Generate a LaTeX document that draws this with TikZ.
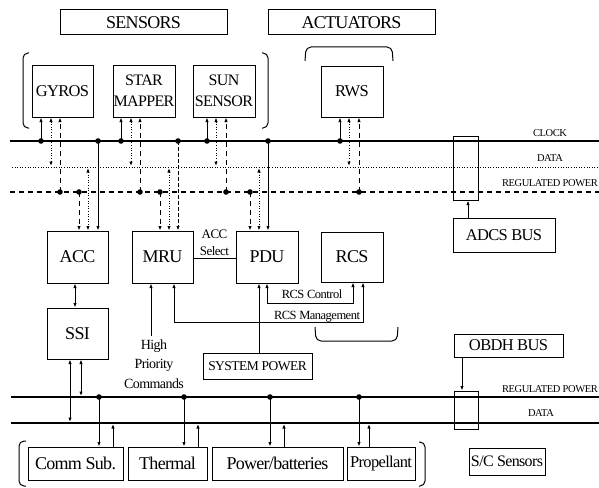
\documentclass[tikz,border=0pt]{standalone}
\usepackage{fontspec}
\setmainfont{Liberation Serif}[LetterSpace=-4]
\usetikzlibrary{arrows.meta}
\begin{document}
\begin{tikzpicture}[x=1pt,y=-1pt,
  >={Latex[length=4.5pt,width=3.4pt]},
  box/.style={draw,line width=1pt,inner sep=0pt,align=center},
  bus/.style={line width=1.3pt},
  dotline/.style={line width=1pt,dash pattern=on 1pt off 1.6pt},
  dashline/.style={line width=1pt,dash pattern=on 5pt off 4pt},
  fdash/.style={line width=1pt,dash pattern=on 4pt off 2pt},
  wire/.style={line width=1pt},
  brk/.style={line width=1pt,rounded corners=5pt},
  f18/.style={font=\fontsize{18}{20}\selectfont},
  f16/.style={font=\fontsize{16.5}{18}\selectfont},
  f2l/.style={font=\fontsize{16}{21}\selectfont},
  f13/.style={font=\fontsize{13.5}{15}\selectfont},
  f12/.style={font=\fontsize{12.5}{14}\selectfont},
  lbl/.style={font=\fontsize{10.5}{11}\selectfont,inner sep=0pt},
]
\useasboundingbox (0,0) rectangle (599,487);

% title boxes
\node[box,f18,minimum width=167pt,minimum height=25pt] (sensors) at (143.5,22.5) {SENSORS};
\node[box,f18,minimum width=167pt,minimum height=25pt] (actuators) at (351.5,22.5) {ACTUATORS};

% brackets
\draw[brk] (29,53) -- (23,53) -- (23,128) -- (29,128);
\draw[brk] (262,53) -- (268,53) -- (268,128) -- (262,128);
\draw[brk] (305,61) -- (306,47) -- (392,47) -- (393,61);
\draw[brk] (315,327) -- (316,341) -- (397,341) -- (398,327);
\draw[brk] (26,441) -- (19,441) -- (19,486) -- (26,486);
\draw[brk] (419,442) -- (425,442) -- (425,486) -- (419,486);

% sensor / actuator boxes
\node[box,f16,minimum width=61pt,minimum height=52pt] (gyros) at (62.5,91) {GYROS};
\node[box,f2l,minimum width=62pt,minimum height=52pt] (star) at (144,91) {STAR\\MAPPER};
\node[box,f2l,minimum width=62pt,minimum height=52pt] (sun) at (224,91) {SUN\\SENSOR};
\node[box,f16,minimum width=62pt,minimum height=51pt] (rws) at (352,91.5) {RWS};

% upper bus
\coordinate (clkL) at (10,141); \coordinate (clkR) at (599,141);
\coordinate (datL) at (12,167); \coordinate (datR) at (599,167);
\coordinate (pwrL) at (10,192); \coordinate (pwrR) at (599,192);
\draw[bus] (clkL) -- (clkR);
\draw[line width=1pt,dash pattern=on 1pt off 1.6pt] (datL) -- (datR);
\draw[line width=1.2pt,dash pattern=on 5pt off 4pt] (pwrL) -- (pwrR);
\node[lbl,anchor=base] (lclk) at (550,136) {CLOCK};
\node[lbl,anchor=base] (ldat) at (550,161) {DATA};
\node[lbl,anchor=base east] (lpwr) at (598,186) {REGULATED POWER};

% connector box upper
\node[draw,line width=1pt,minimum width=25pt,minimum height=64pt,inner sep=0pt] (conn1) at (465.5,168) {};
\node[box,f16,minimum width=102pt,minimum height=34pt] (adcs) at (504,235) {ADCS BUS};
\draw[wire,->] (468,0 |- adcs.north) -- (468,0 |- conn1.south);

% processor boxes
\node[box,f18,minimum width=61pt,minimum height=52pt] (acc) at (77.5,257) {ACC};
\node[box,f18,minimum width=61pt,minimum height=52pt] (mru) at (162.5,257) {MRU};
\node[box,f18,minimum width=62pt,minimum height=52pt] (pdu) at (267,257) {PDU};
\node[box,f18,minimum width=62pt,minimum height=50pt] (rcs) at (352,257) {RCS};
\node[box,f18,minimum width=61pt,minimum height=51pt] (ssi) at (77.5,333.5) {SSI};
\node[box,f13,minimum width=109pt,minimum height=26pt] (syspow) at (257.5,366) {SYSTEM POWER};

% sensor taps
\foreach \s/\a/\b/\c in {gyros/41/51/60, star/121/131/140, sun/207/216/226, rws/340/349/359}{
  \draw[wire,->] (\a,141) -- (\a,0 |- \s.south);
  \draw[dotline,<->] (\b,0 |- \s.south) -- (\b,166);
  \draw[dashline,->] (\c,192) -- (\c,0 |- \s.south);
  \fill (\a,141) circle (2.8pt) (\c,192) circle (2.8pt);
}
% processor taps
\foreach \p/\d/\e/\f in {acc/79/88/98, mru/160/169/178, pdu/250/259/268}{
  \draw[dashline,->] (\d,192) -- (\d,0 |- \p.north);
  \draw[dotline,<->] (\e,168) -- (\e,0 |- \p.north);
  \fill (\d,192) circle (2.8pt) (\f,141) circle (2.8pt);
}
\draw[wire,->] (98,141) -- (98,0 |- acc.north);
\draw[fdash,->] (178,141) -- (178,0 |- mru.north);
\draw[wire,->] (268,141) -- (268,0 |- pdu.north);

% ACC select
\draw[wire] (mru.east |- 0,258) -- (pdu.west |- 0,258);
\node[font=\fontsize{13}{17}\selectfont,align=center,anchor=south,inner sep=1pt] (accsel) at (214.5,257) {ACC\\Select};

% ACC - SSI
\draw[wire,<->] (75,0 |- acc.south) -- (75,0 |- ssi.north);

% high priority commands
\node[align=center,font=\fontsize{14}{19.5}\selectfont,inner sep=0pt] (hpc) at (154,364) {High\\Priority\\Commands};
\draw[wire,->] (151,336) -- (151,0 |- mru.south);

% RCS control / management
\draw[wire,<->] (267,0 |- pdu.south) -- (267,303) -- (353,303) -- (353,0 |- rcs.south);
\draw[wire,<->] (174,0 |- mru.south) -- (174,322) -- (363,322) -- (363,0 |- rcs.south);
\node[f12,anchor=base,inner sep=0pt] (lrcsc) at (312,298) {RCS Control};
\node[f12,anchor=base,inner sep=0pt] (lrcsm) at (317,319) {RCS Management};
\draw[wire,->] (259,0 |- syspow.north) -- (259,0 |- pdu.south);

% OBDH bus
\node[box,f16,minimum width=109pt,minimum height=23pt] (obdh) at (508.5,345.5) {OBDH BUS};
\coordinate (rpL) at (11,397); \coordinate (rpR) at (599,397);
\coordinate (dtL) at (11,423); \coordinate (dtR) at (599,423);
\draw[bus] (rpL) -- (rpR);
\draw[bus] (dtL) -- (dtR);
\node[lbl,anchor=base east] (lrp) at (598,392) {REGULATED POWER};
\node[lbl,anchor=base] (ldt) at (541,416) {DATA};
\node[draw,line width=1pt,minimum width=24pt,minimum height=38pt,inner sep=0pt] (conn2) at (466,410) {};
\draw[wire,->] (462,0 |- obdh.south) -- (462,0 |- conn2.north);

% SSI taps
\draw[wire,<->] (70,0 |- ssi.south) -- (70,422);
\draw[wire,<->] (81,0 |- ssi.south) -- (81,396);

% lower modules
\node[box,f18,minimum width=95pt,minimum height=33pt] (comm) at (75.5,463.5) {Comm Sub.};
\node[box,f18,minimum width=79pt,minimum height=33pt] (thermal) at (167.5,463.5) {Thermal};
\node[box,f18,minimum width=131pt,minimum height=33pt] (power) at (277.5,463.5) {Power/batteries};
\node[box,f16,minimum width=68pt,minimum height=33pt] (prop) at (381,463.5) {Propellant};
\node[box,font=\fontsize{16}{18}\selectfont,minimum width=76pt,minimum height=27pt] (scs) at (507,461.5) {S/C Sensors};

\foreach \m/\a/\b in {comm/99/113, thermal/184/198, power/270/284, prop/359/369}{
  \draw[wire,->] (\a,397) -- (\a,0 |- \m.north);
  \draw[wire,->] (\b,0 |- \m.north) -- (\b,424);
  \fill (\a,397) circle (2.8pt);
}
\end{tikzpicture}
\end{document}
